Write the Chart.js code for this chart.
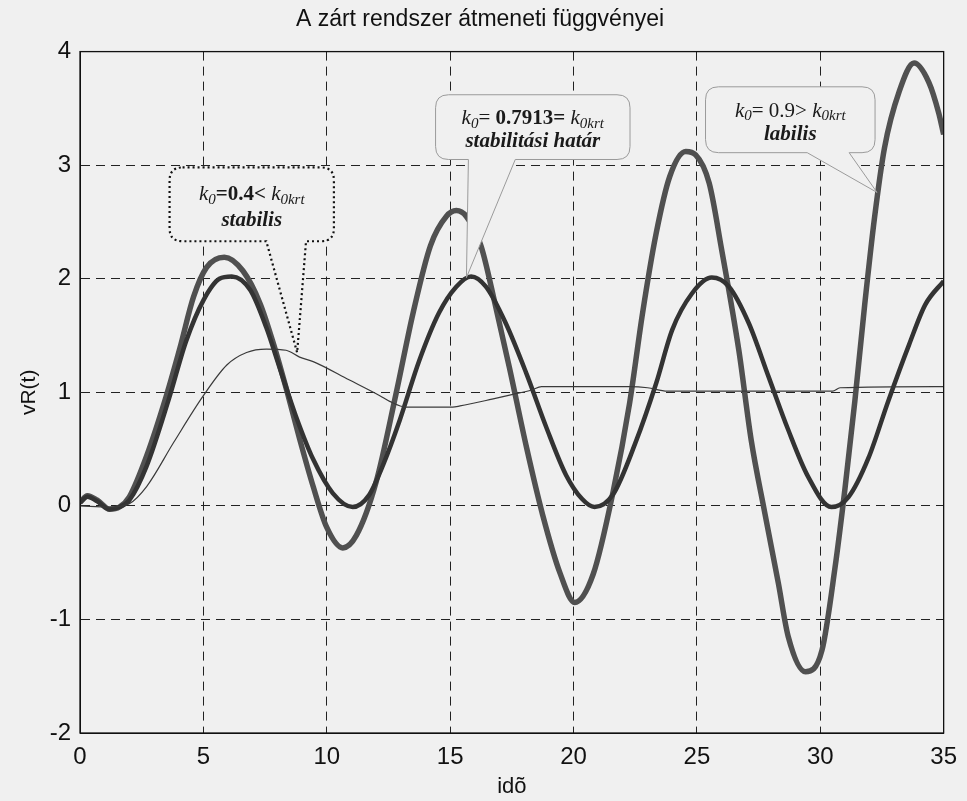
<!DOCTYPE html>
<html>
<head>
<meta charset="utf-8">
<title>A zárt rendszer átmeneti függvényei</title>
<script src="https://cdn.jsdelivr.net/npm/chart.js@4.4.1/dist/chart.umd.min.js"></script>
<style>
    html, body { margin: 0; padding: 0; background: #f0f0f0; }
    #wrap { width: 967px; height: 801px; }
</style>
</head>
<body>
<div id="wrap"><canvas id="chart" width="967" height="801"></canvas></div>
<script>
// axis ticks
const xTicks = [0, 5, 10, 15, 20, 25, 30, 35];
const yTicks = [-2, -1, 0, 1, 2, 3, 4];

// k0 = 0.9 (labilis)
const labilT = [0, 0.3, 0.7, 1.2, 1.6, 2.0, 2.7, 3.5, 4.05, 4.6, 5.13, 5.85, 6.6, 7.3, 7.85, 8.4, 8.9, 9.45, 10.0, 10.65, 11.2, 12.0, 12.8, 13.5, 14.2, 14.85, 15.25, 15.65, 16.25, 16.85, 17.4, 18.1, 18.75, 19.45, 20.05, 20.8, 21.6, 22.27, 22.8, 23.35, 23.9, 24.55, 24.95, 25.5, 26.0, 26.7, 27.2, 27.75, 28.3, 28.7, 29.4, 30.07, 30.6, 31.0, 31.4, 31.8, 32.2, 32.6, 33.2, 33.8, 34.4, 34.8, 35];
const labilV = [0.03, 0.09, 0.05, -0.03, -0.01, 0.08, 0.44, 0.97, 1.39, 1.84, 2.10, 2.19, 2.07, 1.78, 1.42, 1.00, 0.59, 0.17, -0.19, -0.37, -0.26, 0.21, 0.98, 1.70, 2.29, 2.55, 2.60, 2.55, 2.29, 1.75, 1.22, 0.51, -0.08, -0.59, -0.85, -0.60, 0.12, 0.90, 1.70, 2.40, 2.90, 3.12, 3.09, 2.84, 2.26, 1.37, 0.58, -0.06, -0.68, -1.15, -1.46, -1.27, -0.54, 0.15, 0.92, 1.77, 2.54, 3.15, 3.65, 3.90, 3.73, 3.46, 3.27];

// k0 = 0.7913 (stabilitási határ)
const hatarT = [0, 0.3, 0.7, 1.2, 1.6, 2.0, 2.7, 3.6, 4.3, 5.0, 5.65, 6.15, 6.9, 7.55, 8.1, 8.75, 9.45, 10.25, 11.05, 11.7, 12.3, 12.95, 13.75, 14.55, 15.25, 15.85, 16.45, 17.25, 18.1, 18.9, 19.7, 20.35, 20.85, 21.6, 22.5, 23.35, 24.0, 24.8, 25.6, 26.3, 27.1, 27.9, 28.7, 29.5, 30.45, 31.15, 31.95, 32.75, 33.6, 34.25, 35];
const hatarV = [0.03, 0.08, 0.04, -0.03, -0.01, 0.05, 0.35, 0.94, 1.45, 1.81, 2.00, 2.02, 1.90, 1.57, 1.21, 0.79, 0.41, 0.11, -0.01, 0.09, 0.37, 0.75, 1.28, 1.70, 1.93, 2.02, 1.93, 1.61, 1.16, 0.69, 0.27, 0.06, -0.01, 0.10, 0.55, 1.08, 1.55, 1.87, 2.01, 1.93, 1.61, 1.14, 0.67, 0.26, -0.01, 0.08, 0.42, 0.92, 1.42, 1.77, 1.98];

// k0 = 0.4 (stabilis)
const stabilT = [0, 1.2, 2.0, 2.7, 3.8, 5.0, 5.95, 6.75, 7.55, 8.35, 8.9, 9.45, 10.9, 12.15, 12.55, 13.2, 15.1, 15.4, 16.7, 17.5, 18.3, 18.7, 22.3, 23.0, 23.8, 25.0, 28.0, 30.5, 30.8, 35];
const stabilV = [0, -0.01, 0.02, 0.17, 0.56, 0.97, 1.24, 1.35, 1.38, 1.37, 1.31, 1.27, 1.11, 0.97, 0.92, 0.87, 0.87, 0.88, 0.94, 0.98, 1.02, 1.05, 1.05, 1.04, 1.01, 1.01, 1.01, 1.01, 1.04, 1.05];

const PAPER = '#f0f0f0';
const SANS = "'Liberation Sans', Arial, sans-serif";
const SERIF = "'Liberation Serif', 'Times New Roman', serif";

function pts(ts, vs) {
    return ts.map((t, i) => ({ x: t, y: vs[i] }));
}

// callouts, box and tip given in axis units
const callouts = [
    {
        box: [3.63, 10.29, 2.98, 2.33], base: [7.55, 9.16], tip: [8.8, 1.35],
        border: '#111', width: 2.2, dash: [2, 3],
        lines: [
            [['k', 'italic'], ['0', 'italic', true], ['=0.4<', 'bold'], [' k', 'italic'], ['0krt', 'italic', true]],
            [['stabilis', 'italic bold']]
        ]
    },
    {
        box: [14.41, 22.29, 3.62, 3.05], base: [15.74, 17.64], tip: [15.66, 2.01],
        border: '#9a9a9a', width: 1, dash: [],
        lines: [
            [['k', 'italic'], ['0', 'italic', true], ['= ', 'normal'], ['0.7913=', 'bold'], [' k', 'italic'], ['0krt', 'italic', true]],
            [['stabilitási határ', 'italic bold']]
        ]
    },
    {
        box: [25.35, 32.22, 3.69, 3.11], base: [29.47, 31.17], tip: [32.3, 2.76],
        border: '#9a9a9a', width: 1, dash: [],
        lines: [
            [['k', 'italic'], ['0', 'italic', true], ['= 0.9>', 'normal'], [' k', 'italic'], ['0krt', 'italic', true]],
            [['labilis', 'italic bold']]
        ]
    }
];

function drawRich(ctx, segs, cx, cy) {
    const font = (s) => s[1] + ' ' + (s[2] ? 15 : 21) + 'px ' + SERIF;
    let total = 0;
    segs.forEach(s => { ctx.font = font(s); total += ctx.measureText(s[0]).width; });
    let x = cx - total / 2;
    segs.forEach(s => {
        ctx.font = font(s);
        ctx.fillText(s[0], x, cy + (s[2] ? 5 : 0));
        x += ctx.measureText(s[0]).width;
    });
}

const boxPlugin = {
    id: 'axesBox',
    afterDraw(chart) {
        const { ctx, chartArea: a } = chart;
        ctx.save();
        ctx.strokeStyle = '#111';
        ctx.lineWidth = 1.3;
        ctx.strokeRect(a.left, a.top, a.right - a.left, a.bottom - a.top);
        ctx.restore();
    }
};

const calloutPlugin = {
    id: 'callouts',
    afterDatasetsDraw(chart) {
        const { ctx } = chart;
        const xs = chart.scales.x, ys = chart.scales.y;
        callouts.forEach(c => {
            const l = xs.getPixelForValue(c.box[0]), r = xs.getPixelForValue(c.box[1]);
            const t = ys.getPixelForValue(c.box[2]), b = ys.getPixelForValue(c.box[3]);
            const b0 = xs.getPixelForValue(c.base[0]), b1 = xs.getPixelForValue(c.base[1]);
            const tx = xs.getPixelForValue(c.tip[0]), ty = ys.getPixelForValue(c.tip[1]);
            const rad = 13;
            ctx.save();
            ctx.beginPath();
            ctx.moveTo(l + rad, t);
            ctx.lineTo(r - rad, t);
            ctx.quadraticCurveTo(r, t, r, t + rad);
            ctx.lineTo(r, b - rad);
            ctx.quadraticCurveTo(r, b, r - rad, b);
            ctx.lineTo(b1, b);
            ctx.lineTo(tx, ty);
            ctx.lineTo(b0, b);
            ctx.lineTo(l + rad, b);
            ctx.quadraticCurveTo(l, b, l, b - rad);
            ctx.lineTo(l, t + rad);
            ctx.quadraticCurveTo(l, t, l + rad, t);
            ctx.closePath();
            ctx.fillStyle = PAPER;
            ctx.fill();
            ctx.setLineDash(c.dash);
            ctx.lineWidth = c.width;
            ctx.strokeStyle = c.border;
            ctx.stroke();
            ctx.setLineDash([]);
            ctx.fillStyle = '#1a1a1a';
            ctx.textBaseline = 'middle';
            drawRich(ctx, c.lines[0], (l + r) / 2, t + (b - t) * 0.37);
            drawRich(ctx, c.lines[1], (l + r) / 2, t + (b - t) * 0.72);
            ctx.restore();
        });
    }
};

document.addEventListener('DOMContentLoaded', function() {
    const ctx = document.getElementById('chart').getContext('2d');
    const line = { pointRadius: 0, cubicInterpolationMode: 'monotone', fill: false };
    new Chart(ctx, {
        type: 'line',
        data: {
            datasets: [
                Object.assign({ label: 'k0=0.4', data: pts(stabilT, stabilV), borderColor: '#3a3a3a', borderWidth: 1.2 }, line),
                Object.assign({ label: 'k0=0.7913', data: pts(hatarT, hatarV), borderColor: '#333333', borderWidth: 4.5 }, line),
                Object.assign({ label: 'k0=0.7913 inner', data: pts(hatarT, hatarV), borderColor: '#6a6a6a', borderWidth: 1.2 }, line),
                Object.assign({ label: 'k0=0.9', data: pts(labilT, labilV), borderColor: '#505050', borderWidth: 5.5 }, line),
                Object.assign({ label: 'k0=0.9 inner', data: pts(labilT, labilV), borderColor: '#b0b0b0', borderWidth: 2 }, line)
            ]
        },
        options: {
            responsive: false,
            animation: false,
            layout: { padding: { left: 10, right: 17, top: 0, bottom: 0 } },
            plugins: {
                legend: { display: false },
                tooltip: { enabled: false },
                title: {
                    display: true,
                    text: 'A zárt rendszer átmeneti függvényei',
                    color: '#111',
                    font: { family: SANS, size: 23, weight: 'normal' },
                    padding: { top: 6, bottom: 18 }
                }
            },
            scales: {
                x: {
                    type: 'linear',
                    min: xTicks[0],
                    max: xTicks[xTicks.length - 1],
                    afterBuildTicks: s => { s.ticks = xTicks.map(v => ({ value: v })); },
                    afterFit: s => { s.height = 68; },
                    ticks: { color: '#111', font: { family: SANS, size: 24 }, padding: 10, maxRotation: 0 },
                    grid: { color: '#222', lineWidth: 1, drawTicks: false },
                    border: { display: true, color: '#111', dash: [9, 6] },
                    title: { display: true, text: 'idõ', color: '#111', font: { family: SANS, size: 22 }, padding: { top: 0, bottom: 1 } }
                },
                y: {
                    min: yTicks[0],
                    max: yTicks[yTicks.length - 1],
                    afterBuildTicks: s => { s.ticks = yTicks.map(v => ({ value: v })); },
                    afterFit: s => { s.width = 70; },
                    ticks: { color: '#111', font: { family: SANS, size: 24 }, padding: 9 },
                    grid: { color: '#222', lineWidth: 1, drawTicks: false },
                    border: { display: true, color: '#111', dash: [9, 6] },
                    title: { display: true, text: 'vR(t)', color: '#111', font: { family: SANS, size: 21 }, padding: { top: 7, bottom: 0 } }
                }
            }
        },
        plugins: [calloutPlugin, boxPlugin]
    });
});
</script>
</body>
</html>
